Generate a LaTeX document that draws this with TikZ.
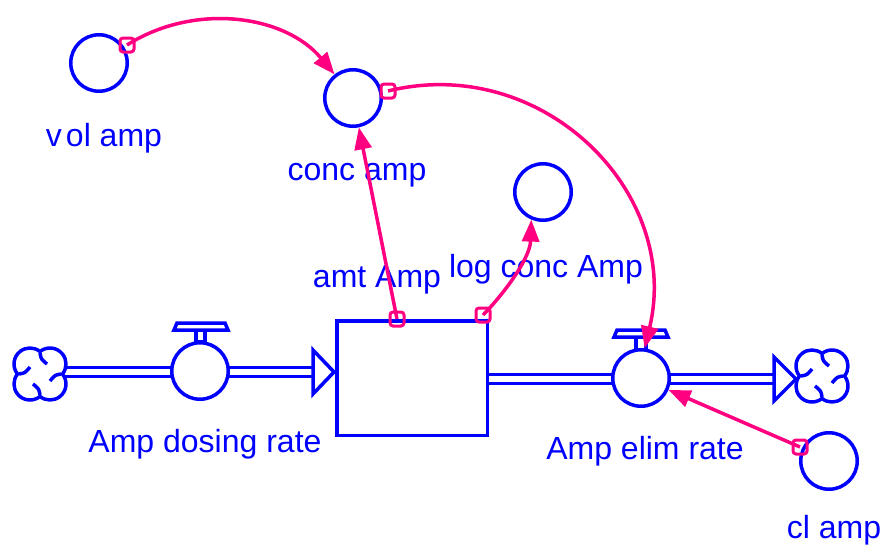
\documentclass[tikz,border=0pt]{standalone}
\usepackage{fontspec}
\setmainfont{Liberation Sans}
\usetikzlibrary{arrows.meta}
\definecolor{vblue}{RGB}{0,0,255}
\definecolor{vpink}{RGB}{255,0,128}
\tikzset{
  cloudpic/.pic={
    \draw[vblue,line width=3.5pt,fill=white,line join=round]
      (-22.5,0) arc[start angle=141.3,end angle=308.7,radius=16]
      arc[start angle=231.3,end angle=398.7,radius=16]
      arc[start angle=-38.7,end angle=128.7,radius=16]
      arc[start angle=51.3,end angle=218.7,radius=16] -- cycle;
    \draw[vblue,line width=3.5pt]
      (0,-21) .. controls (1,-15) .. (7,-10)
      (21,0) .. controls (15,1) .. (10,7)
      (0,21) .. controls (-1,15) .. (-7,10)
      (-21,0) .. controls (-15,-1) .. (-10,-7);
  }
}
\begin{document}
\begin{tikzpicture}[x=1pt,y=-1pt,
  aux/.style={circle,draw=vblue,line width=3.5pt,minimum size=56.5pt,inner sep=0pt,fill=white},
  lbl/.style={text=vblue,font=\fontsize{32}{38}\selectfont,inner sep=0pt,anchor=base},
  pipe/.style={draw=vblue,line width=3.5pt,double=white,double distance=5.5pt},
  flowhead/.style={draw=vblue,line width=3.5pt,fill=white},
  valvebar/.style={draw=vblue,line width=3.5pt,fill=white},
  link/.style={draw=vpink,line width=3.5pt,-{Triangle[length=22pt,width=17pt]}},
  origin/.style={rectangle,draw=vpink,line width=3pt,rounded corners=3pt,minimum size=14pt,inner sep=0pt}
]
\useasboundingbox (0,0) rectangle (885,546);

% coordinates for the flow chain
\coordinate (lcloud) at (40,374);
\coordinate (rcloud) at (822,376);
\coordinate (inbase) at (313,372);
\coordinate (outbase) at (774,379);

% stock
\node[draw=vblue,line width=3.5pt,fill=white,minimum width=150.5pt,minimum height=114.5pt,inner sep=0pt] (amt) at (412,378) {};

% inflow pipe
\draw[pipe] (lcloud |- inbase) -- (inbase);
\draw[flowhead] (313,350) -- (334,372) -- (313,394) -- cycle;
% outflow pipe
\draw[pipe] (amt.east |- outbase) -- (outbase);
\draw[flowhead] (774,357) -- (796,379) -- (774,401) -- cycle;

% clouds
\pic (cl1) at (lcloud) {cloudpic};
\pic (cl2) at (rcloud) {cloudpic};

% dosing valve
\draw[valvebar] (196,328) rectangle (205,342);
\draw[valvebar] (174,330) -- (177,323) -- (225,323) -- (228,330) -- cycle;
\node[aux] (dose) at (200,371) {};
% elim valve
\draw[valvebar] (636,336) rectangle (646,350);
\draw[valvebar] (614,337) -- (617,330) -- (665,330) -- (668,337) -- cycle;
\node[aux] (elim) at (641,378) {};

% auxiliaries
\node[aux] (vol) at (99,63) {};
\node[aux] (conc) at (353,98) {};
\node[aux] (logc) at (543,192) {};
\node[aux] (cl) at (829,461) {};

% labels
\node[lbl] (volL) at (104,146) {v\kern4pt ol amp};
\node[lbl] (concL) at (357,180) {conc amp};
\node[lbl] (amtL) at (377,287) {amt Amp};
\node[lbl,fill=white,inner xsep=2pt] (logL) at (546,277) {log conc Amp};
\node[lbl] (doseL) at (205,452) {Amp dosing rate};
\node[lbl] (elimL) at (645,459) {Amp elim rate};
\node[lbl] (clL) at (834,538) {cl amp};

% link origins
\coordinate (p1) at (127,45);
\coordinate (p2) at (388,91);
\coordinate (p3) at (397,319);
\coordinate (p4) at (483,315);
\coordinate (p5) at (800,447);

% links
\draw[link] (p1) .. controls (195,2) and (285,15) .. (conc.128);
\draw[link] (p2) .. controls (542,53) and (682,192) .. (elim.83);
\draw[link] (p3) -- (conc);
\draw[link] (p4) .. controls (500,298) and (530,260) .. (logc.247);
\draw[link] (p5) -- (elim);

\node[origin] (o1) at (p1) {};
\node[origin] (o2) at (p2) {};
\node[origin] (o3) at (p3) {};
\node[origin] (o4) at (p4) {};
\node[origin] (o5) at (p5) {};
\end{tikzpicture}
\end{document}
